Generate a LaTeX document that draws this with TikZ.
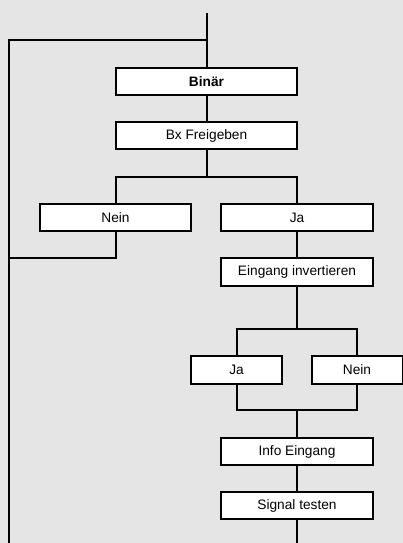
\documentclass[tikz,border=0pt]{standalone}
\usepackage{fontspec}
\setmainfont{Liberation Sans}
\definecolor{bggray}{RGB}{229,229,229}
\tikzset{
  box/.style={draw, fill=white, line width=2pt, inner sep=0pt,
    minimum height=27pt, font=\fontsize{13.7}{16}\selectfont},
  wide/.style={box, minimum width=181pt},
  mid/.style={box, minimum width=152pt},
  small/.style={box, minimum width=91pt},
  wire/.style={line width=2pt}
}
\begin{document}
\begin{tikzpicture}[x=1pt,y=-1pt]
\fill[bggray] (0,0) rectangle (403,543);
\useasboundingbox (0,0) rectangle (403,543);
\coordinate (start) at (206.5,13);
\coordinate (back) at (206.5,40);
\coordinate (loopcorner) at (9,40);
\coordinate (loopend) at (9,543);
\coordinate (loopin) at (9,258);
\coordinate (split1) at (206.5,177);
\coordinate (split2) at (297,329);
\coordinate (merge2) at (297,410);
\coordinate (finish) at (297,543);
\node[wide] (binaer) at (206.5,81.5) {\textbf{Binär}};
\node[wide] (freigeben) at (206.5,135.5) {Bx Freigeben};
\node[box, minimum width=151pt] (nein1) at (115.5,217.5) {Nein};
\node[mid] (ja1) at (297,217.5) {Ja};
\node[mid, minimum height=28pt] (invert) at (297,272) {Eingang invertieren};
\node[small, minimum height=28pt] (ja2) at (236.5,370) {Ja};
\node[small, minimum height=28pt] (nein2) at (357,370) {Nein};
\node[mid] (info) at (297,451.5) {Info Eingang};
\node[mid] (signal) at (297,505.5) {Signal testen};
\draw[wire] (start) -- (binaer);
\draw[wire] (back) -- (loopcorner) -- (loopend);
\draw[wire] (binaer) -- (freigeben);
\draw[wire] (freigeben) -- (split1);
\draw[wire] (nein1.north) |- (split1) -| (ja1.north);
\draw[wire] (nein1.south) |- (loopin);
\draw[wire] (ja1) -- (invert);
\draw[wire] (invert) -- (split2);
\draw[wire] (ja2.north) |- (split2) -| (nein2.north);
\draw[wire] (ja2.south) |- (merge2) -| (nein2.south);
\draw[wire] (merge2) -- (info);
\draw[wire] (info) -- (signal);
\draw[wire] (signal) -- (finish);
\end{tikzpicture}
\end{document}
